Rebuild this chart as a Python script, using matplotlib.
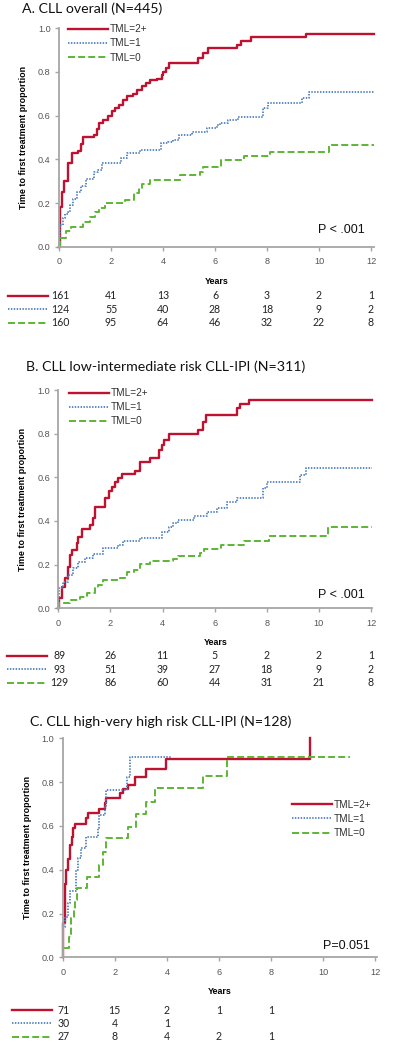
import matplotlib
matplotlib.use("Agg")
import matplotlib.pyplot as plt
from matplotlib.lines import Line2D

# ---------------- data ----------------
year_ticks = [0, 2, 4, 6, 8, 10, 12]
prop_ticks = [0.0, 0.2, 0.4, 0.6, 0.8, 1.0]
groups = ["TML=2+", "TML=1", "TML=0"]

# A. CLL overall
a_red_t = [0, 0.02, 0.1, 0.2, 0.36, 0.49, 0.74, 0.85, 0.94, 1.36, 1.45, 1.55, 1.7, 1.88, 2.04, 2.15,
           2.3, 2.45, 2.6, 2.83, 3.0, 3.2, 3.33, 3.5, 3.76, 3.95, 4.0, 4.1, 4.23, 5.36, 5.55, 5.72,
           6.85, 7.0, 7.37, 9.5, 12.1]
a_red_p = [0, 0.18, 0.25, 0.30, 0.383, 0.43, 0.44, 0.47, 0.50, 0.51, 0.54, 0.565, 0.58, 0.60, 0.62, 0.635,
           0.65, 0.67, 0.69, 0.70, 0.717, 0.735, 0.75, 0.763, 0.77, 0.786, 0.80, 0.82, 0.842, 0.862, 0.885, 0.908,
           0.924, 0.94, 0.959, 0.974, 0.974]
a_blue_t = [0, 0.05, 0.15, 0.25, 0.35, 0.42, 0.55, 0.7, 0.85, 1.04, 1.36, 1.5, 1.66, 2.4, 2.6, 3.1,
            3.92, 4.2, 4.4, 4.6, 5.1, 5.68, 6.06, 6.19, 6.51, 6.9, 7.86, 8.05, 9.33, 9.6, 12.1]
a_blue_p = [0, 0.10, 0.13, 0.15, 0.16, 0.19, 0.22, 0.25, 0.28, 0.31, 0.34, 0.35, 0.382, 0.405, 0.43, 0.443,
            0.473, 0.48, 0.49, 0.51, 0.527, 0.542, 0.557, 0.568, 0.58, 0.595, 0.634, 0.66, 0.68, 0.71, 0.71]
a_green_t = [0, 0.02, 0.28, 0.47, 0.94, 1.2, 1.4, 1.53, 1.76, 2.55, 2.87, 3.08, 3.2, 3.5, 4.66, 5.42,
             5.55, 6.25, 7.13, 8.1, 10.4, 12.1]
a_green_p = [0, 0.038, 0.073, 0.092, 0.114, 0.137, 0.16, 0.176, 0.199, 0.214, 0.244, 0.267, 0.287, 0.305, 0.328, 0.343,
             0.366, 0.397, 0.415, 0.432, 0.464, 0.464]
a_risk_red = [161, 41, 13, 6, 3, 2, 1]
a_risk_blue = [124, 55, 40, 28, 18, 9, 2]
a_risk_green = [160, 95, 64, 46, 32, 22, 8]

# B. low-intermediate risk
b_red_t = [0, 0.02, 0.13, 0.26, 0.36, 0.45, 0.52, 0.7, 0.77, 0.9, 1.2, 1.33, 1.4, 1.8, 1.93, 2.06,
           2.19, 2.3, 2.44, 2.94, 3.14, 3.52, 3.85, 3.97, 4.05, 4.25, 5.37, 5.56, 5.65, 6.84, 6.97, 7.33, 12.05]
b_red_p = [0, 0.046, 0.099, 0.137, 0.19, 0.244, 0.267, 0.298, 0.328, 0.363, 0.38, 0.412, 0.465, 0.504, 0.537, 0.557,
           0.577, 0.595, 0.614, 0.63, 0.669, 0.69, 0.725, 0.748, 0.77, 0.797, 0.817, 0.855, 0.885, 0.916, 0.934, 0.954, 0.954]
b_blue_t = [0, 0.03, 0.19, 0.38, 0.57, 0.77, 1.02, 1.33, 1.72, 2.3, 2.5, 3.13, 3.97, 4.23, 4.42, 4.6,
            5.19, 5.7, 6.08, 6.46, 6.84, 7.84, 8.0, 9.27, 9.52, 12.05]
b_blue_p = [0, 0.092, 0.122, 0.153, 0.183, 0.213, 0.229, 0.247, 0.275, 0.29, 0.308, 0.32, 0.351, 0.374, 0.389, 0.404,
            0.424, 0.443, 0.461, 0.486, 0.507, 0.55, 0.58, 0.61, 0.644, 0.644]
b_green_t = [0, 0.03, 0.45, 0.84, 1.1, 1.41, 1.54, 1.73, 2.36, 2.55, 2.62, 2.9, 3.13, 3.5, 4.42, 4.6,
             5.45, 5.6, 6.24, 7.13, 8.1, 10.35, 12.05]
b_green_p = [0, 0.023, 0.038, 0.053, 0.069, 0.092, 0.107, 0.13, 0.14, 0.153, 0.168, 0.175, 0.205, 0.217, 0.226, 0.241,
             0.255, 0.272, 0.29, 0.31, 0.333, 0.374, 0.374]
b_risk_red = [89, 26, 11, 5, 2, 2, 1]
b_risk_blue = [93, 51, 39, 27, 18, 9, 2]
b_risk_green = [129, 86, 60, 44, 31, 21, 8]

# C. high-very high risk
c_red_t = [0, 0.03, 0.08, 0.14, 0.2, 0.27, 0.36, 0.4, 0.46, 0.91, 0.97, 1.38, 1.61, 1.67, 2.2, 2.3,
           2.5, 2.76, 3.2, 3.97, 9.5]
c_red_p = [0, 0.155, 0.335, 0.399, 0.447, 0.513, 0.551, 0.589, 0.607, 0.635, 0.66, 0.676, 0.703, 0.726, 0.75, 0.768,
           0.787, 0.822, 0.858, 0.904, 1.0]
c_blue_t = [0, 0.03, 0.08, 0.2, 0.27, 0.53, 0.59, 0.72, 0.91, 1.34, 1.4, 1.61, 1.67, 2.48, 2.57, 4.19]
c_blue_p = [0, 0.14, 0.185, 0.247, 0.304, 0.399, 0.452, 0.498, 0.548, 0.589, 0.65, 0.688, 0.764, 0.825, 0.913, 0.913]
c_green_t = [0, 0.03, 0.25, 0.33, 0.42, 0.49, 0.55, 0.95, 1.38, 1.55, 1.67, 2.5, 2.82, 3.2, 3.54, 5.4, 6.3, 11.04]
c_green_p = [0, 0.041, 0.094, 0.178, 0.216, 0.262, 0.315, 0.365, 0.421, 0.482, 0.543, 0.596, 0.654, 0.711, 0.772,
             0.828, 0.913, 0.913]
c_risk_red = [71, 15, 2, 1, 1]
c_risk_blue = [30, 4, 1]
c_risk_green = [27, 8, 4, 2, 1]

# ---------------- styling ----------------
W, H = 402, 1050
RED, BLUE, GREEN = "#BE1230", "#4F81BD", "#5DB534"
AXIS_GRAY = "#A6A6A6"
TXT_GRAY = "#555555"
styles = [
    dict(color=RED, lw=1.7, ls="-"),
    dict(color=BLUE, lw=1.3, ls=(0, (0.8, 0.8))),
    dict(color=GREEN, lw=1.4, ls=(0, (3.6, 1.6))),
]
TITLE_FONT = "Lato"
AX_FONT = "Liberation Sans"

fig = plt.figure(figsize=(W / 100, H / 100), dpi=100)


def px_axes(x0, y_bottom, y_top, px_per_year, xmax):
    # build axes from pixel positions of the data origin / top
    width = px_per_year * xmax
    return fig.add_axes([x0 / W, 1 - y_bottom / H, width / W, (y_bottom - y_top) / H])


def draw_panel(ax, title, title_xy, curves, risks, pval, xmax, legend_anchor, row_offsets):
    for (t, p), st in zip(curves, styles):
        ax.step(t, p, where="post", clip_on=False, **st)

    ax.set_xlim(0, xmax)
    ax.set_ylim(0, 1.0)
    ax.set_xticks(year_ticks)
    ax.set_yticks(prop_ticks)
    ax.set_yticklabels([f"{v:.1f}" for v in prop_ticks])
    for s in ["top", "right"]:
        ax.spines[s].set_visible(False)
    for s in ["left", "bottom"]:
        ax.spines[s].set_color(AXIS_GRAY)
        ax.spines[s].set_linewidth(1.3)
    ax.tick_params(colors=AXIS_GRAY, length=3, width=1, labelcolor=TXT_GRAY, labelsize=6.6, pad=3)
    ax.tick_params(axis="x", pad=4.5)
    for lab in ax.get_xticklabels() + ax.get_yticklabels():
        lab.set_fontfamily(AX_FONT)

    ax.set_ylabel("Time to first treatment proportion", fontsize=6.4, fontweight="bold",
                  fontfamily=AX_FONT, labelpad=7)
    ax.set_xlabel("Years", fontsize=6.4, fontweight="bold", fontfamily=AX_FONT, labelpad=7.5)

    fig.text(title_xy[0] / W, 1 - title_xy[1] / H, title, fontsize=10.2, fontfamily=TITLE_FONT,
             va="center", ha="left", color="#111111")

    ax.text(pval[0], pval[1], pval[2], transform=ax.transAxes, ha="right", va="center",
            fontsize=9, fontfamily=AX_FONT, color="#111111")

    handles = [Line2D([], [], **st) for st in styles]
    leg = ax.legend(handles, groups, loc="upper left", bbox_to_anchor=legend_anchor, frameon=False,
                    handlelength=4.0, handletextpad=0.2, labelspacing=0.42,
                    borderaxespad=0, borderpad=0, prop=dict(family=AX_FONT, size=7.2))
    for txt in leg.get_texts():
        txt.set_color("#333333")

    # number at risk table under the axis
    trans = ax.get_xaxis_transform()
    pos = ax.get_position()
    for row, (vals, st, dy) in enumerate(zip(risks, styles, row_offsets)):
        for t, v in zip(year_ticks, vals):
            ax.annotate(str(v), xy=(t, 0), xycoords=trans, xytext=(1 if t == 0 else 0, -dy),
                        textcoords="offset pixels", ha="center", va="center", fontsize=7.6,
                        fontfamily=TITLE_FONT, color="#222222", annotation_clip=False)
        yf = pos.y0 - dy / H
        fig.add_artist(Line2D([pos.x0 - 51 / W, pos.x0 - 11 / W], [yf, yf],
                              transform=fig.transFigure, **st))


ax_a = px_axes(59.0, 246.7, 28.3, 26.0, 12.1)
draw_panel(ax_a, "A. CLL overall (N=445)", (22, 9),
           [(a_red_t, a_red_p), (a_blue_t, a_blue_p), (a_green_t, a_green_p)],
           [a_risk_red, a_risk_blue, a_risk_green],
           (11.75 / 12.1, 0.076, "P < .001"), 12.1, (0.028, 1.019), (49.3, 62.8, 76.0))

ax_b = px_axes(58.3, 608.3, 390.0, 26.06, 12.05)
draw_panel(ax_b, "B. CLL low-intermediate risk CLL-IPI (N=311)", (26, 367),
           [(b_red_t, b_red_p), (b_blue_t, b_blue_p), (b_green_t, b_green_p)],
           [b_risk_red, b_risk_blue, b_risk_green],
           (11.75 / 12.05, 0.061, "P < .001"), 12.05, (0.034, 1.009), (47.4, 61.0, 74.4))

ax_c = px_axes(62.7, 957.3, 738.3, 26.03, 12.07)
draw_panel(ax_c, "C. CLL high-very high risk CLL-IPI (N=128)", (30, 722),
           [(c_red_t, c_red_p), (c_blue_t, c_blue_p), (c_green_t, c_green_p)],
           [c_risk_red, c_risk_blue, c_risk_green],
           (11.8 / 12.07, 0.052, "P=0.051"), 12.07, (0.729, 0.72), (52.7, 66.0, 79.7))

fig.savefig("out.png", dpi=100, facecolor="white")
